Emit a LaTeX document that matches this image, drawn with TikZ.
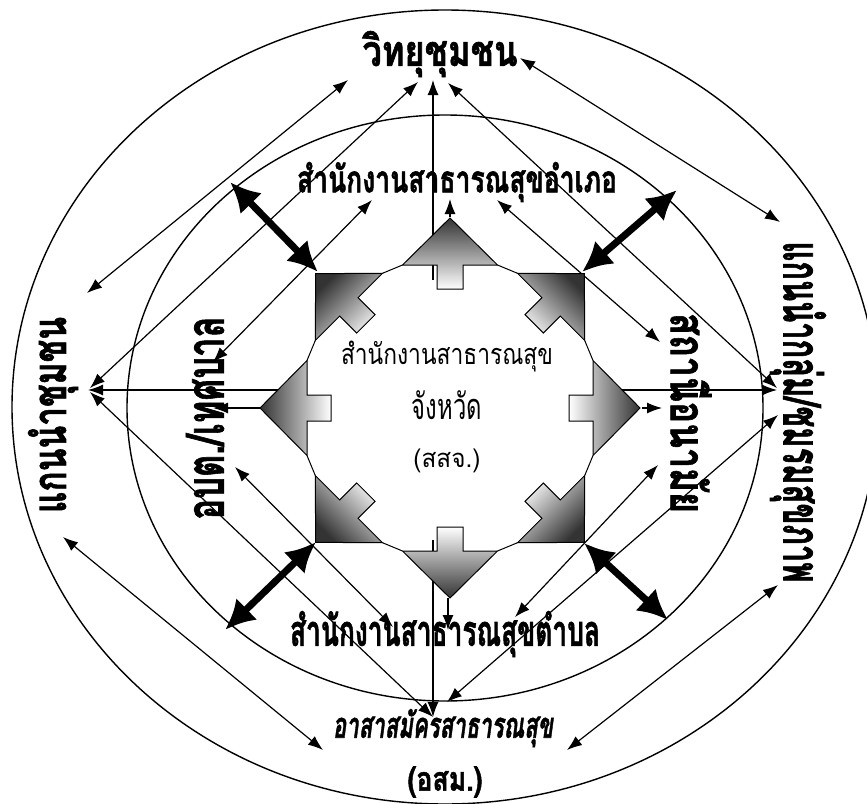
\documentclass[tikz,border=0pt]{standalone}
\usepackage{graphicx}
\usepackage{fontspec}
\newfontfamily\thai[Script=Thai]{Loma}
\newfontfamily\thaiheavy[Script=Thai,FakeBold=1.6]{Loma}
\usetikzlibrary{arrows.meta,calc}
\begin{document}
\begin{tikzpicture}[x=1bp,y=-1bp,
  conn/.style={line width=1.2bp},
  dbl/.style={conn,{Latex[length=15bp,width=11bp]}-{Latex[length=15bp,width=11bp]}},
  sgl/.style={conn,-{Latex[length=15bp,width=11bp]}},
  fat/.style={line width=7bp,{Latex[length=30bp,width=30bp]}-{Latex[length=30bp,width=30bp]}},
  ring/.style={line width=1.4bp},
  lbl/.style={font=\thaiheavy\bfseries, inner sep=0pt},
  ctr/.style={font=\thai, inner sep=0pt},
  blk/.style={draw=black, line width=1bp, top color=black!80, bottom color=white}
]
\useasboundingbox (0,0) rectangle (867,804);
\coordinate (C) at (450,408);

% rings
\begin{scope}
\clip (0,0) rectangle (867,804);
\draw[ring] (445,407) ellipse [x radius=433, y radius=397];
\draw[ring] (445,408) ellipse [x radius=318, y radius=293];
\end{scope}

% connector end points
\coordinate (a1) at (87,293);  \coordinate (b1) at (348,80);
\coordinate (a2) at (90,388);  \coordinate (b2) at (418,82);
\coordinate (a3) at (230,182); \coordinate (b3) at (318,272);
\coordinate (a4) at (213,362); \coordinate (b4) at (372,200);
\coordinate (a5) at (433,280); \coordinate (b5) at (433,80);
\coordinate (a6) at (450,217); \coordinate (b6) at (450,199);
\coordinate (a7) at (520,58);  \coordinate (b7) at (780,222);
\coordinate (a8) at (448,83);  \coordinate (b8) at (777,388);
\coordinate (a9) at (582,272); \coordinate (b9) at (677,190);
\coordinate (a10) at (497,200); \coordinate (b10) at (660,342);
\coordinate (a11) at (610,390); \coordinate (b11) at (777,390);
\coordinate (a12) at (642,408); \coordinate (b12) at (662,408);
\coordinate (a13) at (290,390); \coordinate (b13) at (88,390);
\coordinate (a14) at (260,408); \coordinate (b14) at (213,408);
\coordinate (a15) at (63,537);  \coordinate (b15) at (323,750);
\coordinate (a16) at (90,392);  \coordinate (b16) at (433,717);
\coordinate (a17) at (235,467); \coordinate (b17) at (393,627);
\coordinate (a18) at (316,542); \coordinate (b18) at (225,630);
\coordinate (a19) at (433,540); \coordinate (b19) at (433,717);
\coordinate (a20) at (448,598); \coordinate (b20) at (448,630);
\coordinate (a21) at (658,465); \coordinate (b21) at (515,617);
\coordinate (a22) at (778,415); \coordinate (b22) at (447,702);
\coordinate (a23) at (584,543); \coordinate (b23) at (668,620);
\coordinate (a24) at (778,585); \coordinate (b24) at (567,750);

% thin connectors
\draw[dbl] (a1) -- (b1);
\draw[dbl] (a2) -- (b2);
\draw[dbl] (a4) -- (b4);
\draw[sgl] (a5) -- (b5);
\draw[sgl] (a6) -- (b6);
\draw[dbl] (a7) -- (b7);
\draw[dbl] (a8) -- (b8);
\draw[dbl] (a10) -- (b10);
\draw[sgl] (a11) -- (b11);
\draw[sgl] (a12) -- (b12);
\draw[sgl] (a13) -- (b13);
\draw[sgl] (a14) -- (b14);
\draw[dbl] (a15) -- (b15);
\draw[dbl] (a16) -- (b16);
\draw[dbl] (a17) -- (b17);
\draw[sgl] (a19) -- (b19);
\draw[sgl] (a20) -- (b20);
\draw[dbl] (a21) -- (b21);
\draw[dbl] (a22) -- (b22);
\draw[dbl] (a24) -- (b24);

% octagon edges between block arrows
\foreach \a in {0,45,...,315}{
  \draw[line width=1bp] ($(C)+(-\a:143)+(-\a-90:47.5)$) -- ($(C)+(-\a-45:143)+(-\a+45:47.5)$);
}
% block arrows
\foreach \a in {0,45,...,315}{
  \pgfmathsetmacro\sa{\a-90}
  \path[blk, shading angle=\sa]
    ($(C)+(-\a:190)$) -- ($(C)+(-\a:143)+(-\a-90:47.5)$) -- ($(C)+(-\a:143)+(-\a-90:13)$)
    -- ($(C)+(-\a:119)+(-\a-90:13)$) -- ($(C)+(-\a:119)+(-\a+90:13)$)
    -- ($(C)+(-\a:143)+(-\a+90:13)$) -- ($(C)+(-\a:143)+(-\a+90:47.5)$) -- cycle;
}

% thick connectors
\draw[fat] (a3) -- (b3);
\draw[fat] (a9) -- (b9);
\draw[fat] (a18) -- (b18);
\draw[fat] (a23) -- (b23);

% labels
\node[lbl] (radio) at (440,54) {\resizebox*{155bp}{46bp}{วิทยุชุมชน}};
\node[lbl] (amphoe) at (457,182) {\resizebox*{320bp}{40bp}{สำนักงานสาธารณสุขอำเภอ}};
\node[lbl] (tambon) at (445,634) {\resizebox*{310bp}{46bp}{สำนักงานสาธารณสุขตำบล}};
\node[lbl] (osm) at (443,728) {\resizebox*{220bp}{38bp}{\itshape อาสาสมัครสาธารณสุข}};
\node[lbl] (osmab) at (445,782) {\resizebox*{75bp}{31bp}{(อสม.)}};
\node[lbl, rotate=90] (leader) at (53,415) {\resizebox*{196bp}{50bp}{แกนนำชุมชน}};
\node[lbl, rotate=90] (obt) at (205,418) {\resizebox*{203bp}{38bp}{อบต./เทศบาล}};
\node[lbl, rotate=-90] (station) at (691,413) {\resizebox*{200bp}{41bp}{สถานีอนามัย}};
\node[lbl, rotate=-90] (group) at (798,412) {\resizebox*{341bp}{56bp}{แกนนำกลุ่ม/ชมรมสุขภาพ}};
\node[ctr] (c1) at (447,357) {\resizebox*{212bp}{31bp}{สำนักงานสาธารณสุข}};
\node[ctr] (c2) at (447,405) {\resizebox*{70bp}{29bp}{จังหวัด}};
\node[ctr] (c3) at (447,461) {\resizebox*{67bp}{24bp}{(สสจ.)}};
\end{tikzpicture}
\end{document}
